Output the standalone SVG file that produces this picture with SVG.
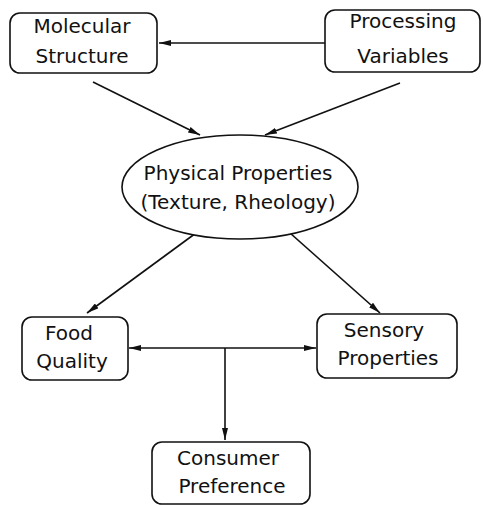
<svg xmlns="http://www.w3.org/2000/svg" width="483" height="505" viewBox="0 0 483 505">
<style>
.box{fill:#fff;stroke:#111;stroke-width:1.6}
.t{font-family:"DejaVu Sans",sans-serif;font-size:20px;fill:#111;text-anchor:middle}
.c{stroke:#111;stroke-width:1.6;fill:none}
</style>
<defs>
<marker id="a" viewBox="0 0 12 6" refX="12" refY="3" markerWidth="12" markerHeight="6" markerUnits="userSpaceOnUse" orient="auto-start-reverse">
<path d="M0,0 L12,3 L0,6 Z" fill="#111"/>
</marker>
</defs>
<rect width="483" height="505" fill="#fff"/>
<g id="connectors">
<line class="c" x1="325" y1="43" x2="159" y2="43" marker-end="url(#a)"/>
<line class="c" x1="93" y1="82" x2="200" y2="135" marker-end="url(#a)"/>
<line class="c" x1="400" y1="83" x2="265" y2="135" marker-end="url(#a)"/>
<line class="c" x1="196" y1="233" x2="87" y2="313" marker-end="url(#a)"/>
<line class="c" x1="290" y1="233" x2="380" y2="313" marker-end="url(#a)"/>
<line class="c" x1="129" y1="348" x2="316" y2="348" marker-start="url(#a)" marker-end="url(#a)"/>
<line class="c" x1="225" y1="348" x2="225" y2="440" marker-end="url(#a)"/>
</g>
<g id="molecular">
<rect class="box" x="10" y="13" width="147" height="60" rx="10"/>
<text class="t" x="82" y="33">Molecular</text>
<text class="t" x="82" y="63">Structure</text>
</g>
<g id="processing">
<rect class="box" x="325" y="10" width="155" height="62" rx="10"/>
<text class="t" x="403" y="28">Processing</text>
<text class="t" x="403" y="63">Variables</text>
</g>
<g id="physical">
<ellipse class="box" cx="240" cy="187" rx="118" ry="52"/>
<text class="t" x="238" y="180">Physical Properties</text>
<text class="t" x="238" y="209">(Texture, Rheology)</text>
</g>
<g id="food">
<rect class="box" x="22" y="317" width="106" height="63" rx="10"/>
<text class="t" x="69" y="340">Food</text>
<text class="t" x="72" y="368">Quality</text>
</g>
<g id="sensory">
<rect class="box" x="317" y="314" width="140" height="64" rx="10"/>
<text class="t" x="384" y="337">Sensory</text>
<text class="t" x="388" y="365">Properties</text>
</g>
<g id="consumer">
<rect class="box" x="152" y="442" width="158" height="62" rx="10"/>
<text class="t" x="228" y="465">Consumer</text>
<text class="t" x="232" y="493">Preference</text>
</g>
</svg>
